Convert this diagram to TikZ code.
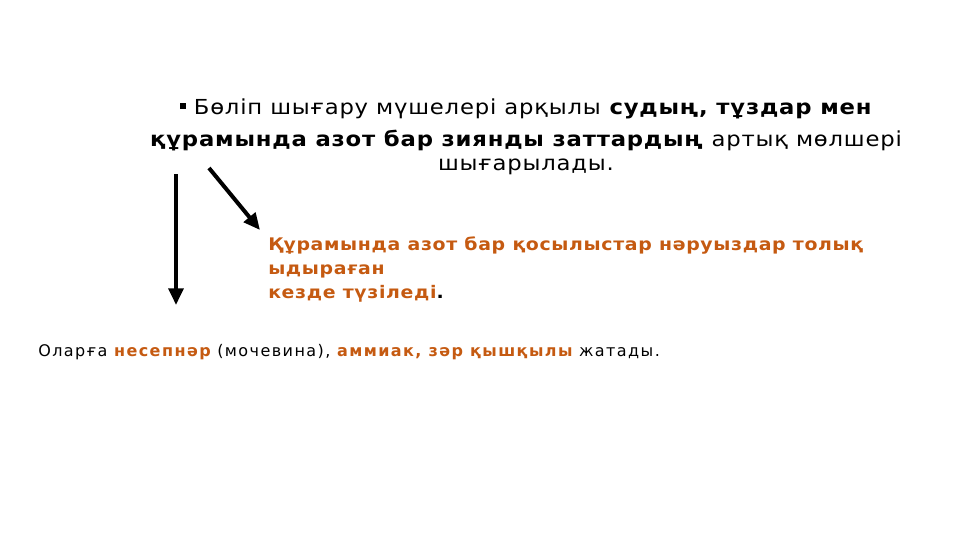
\documentclass[tikz,border=0pt]{standalone}
\usepackage{fontspec}
\setmainfont{DejaVu Sans}
\usepackage{tikz}
\usetikzlibrary{positioning,arrows.meta}
\definecolor{rust}{HTML}{C55A11}
\tikzset{
 head/.style
  = {align=center, inner sep=0pt, font=\fontsize{15.5}{19.5}\selectfont\addfontfeatures{FakeStretch=1.1,LetterSpace=3.8}},
 note/.style
  = {align=left, inner sep=0pt, text=rust, font=\bfseries\fontsize{13}{18}\selectfont\addfontfeatures{FakeStretch=1.09,LetterSpace=3.8}},
 foot/.style
  = {align=left, inner sep=0pt, font=\fontsize{12}{14}\selectfont\addfontfeatures{LetterSpace=9}},
 l/.style
  = {draw, line width=3pt, -{Triangle[length=12.5pt,width=11pt]}}
}
\newcommand{\sqbullet}{\rule[0.3em]{0.3em}{0.3em}}
\begin{document}
\begin{tikzpicture}[x=0.75pt,y=-0.75pt]
    \useasboundingbox (0,0) rectangle (960,540);
    \node [head, anchor=north] (title) at (526,99) {\sqbullet{} Бөліп шығару мүшелері арқылы \textbf{судың, тұздар мен}\\[4.5pt] \textbf{құрамында азот бар зиянды заттардың} артық мөлшері\\[-1.5pt] шығарылады.};
    \node [note, anchor=north west] (formed) at (268,236) {Құрамында азот бар қосылыстар нәруыздар толық\\ ыдыраған\\ кезде түзіледі{\color{black}.}};
    \node [foot, anchor=base west] (kinds) at (38,356) {Оларға {\color{rust}\bfseries несепнәр} (мочевина), {\color{rust}\bfseries аммиак, зәр қышқылы} жатады.};
    \coordinate (downtop) at (176,174);
    \coordinate (downend) at (176,305);
    \coordinate (slanttop) at (209,168);
    \coordinate (slantend) at (260,230);

    \path [l] (downtop) -- (downend);
    \path [l] (slanttop) -- (slantend);
\end{tikzpicture}
\end{document}
